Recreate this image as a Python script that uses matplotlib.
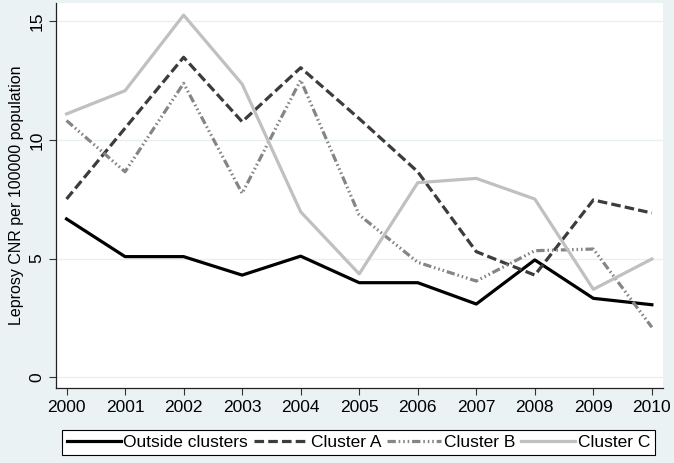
import numpy as np
import matplotlib

matplotlib.use("Agg")
import matplotlib.pyplot as plt  # noqa: E402

plt.rcParams["font.family"] = ["Liberation Sans", "DejaVu Sans"]

years = [2000, 2001, 2002, 2003, 2004, 2005, 2006, 2007, 2008, 2009, 2010]
outside = [6.67, 5.08, 5.08, 4.30, 5.10, 3.98, 3.98, 3.08, 4.94, 3.32, 3.05]
cluster_a = [7.51, 10.5, 13.49, 10.77, 13.05, 10.9, 8.66, 5.29, 4.30, 7.47, 6.92]
cluster_b = [10.82, 8.66, 12.39, 7.75, 12.53, 6.84, 4.84, 4.05, 5.33, 5.40, 2.10]
cluster_c = [11.1, 12.08, 15.27, 12.36, 6.97, 4.35, 8.2, 8.38, 7.51, 3.70, 4.98]
yticks = [0, 5, 10, 15]

BG = "#eaf2f3"

fig = plt.figure(figsize=(6.74, 4.63), dpi=100, facecolor=BG)
ax = fig.add_axes([56 / 674, 1 - 387.7 / 463, (663 - 56) / 674, (387.7 - 3) / 463])
ax.set_facecolor("white")

lw = 2.3
ax.plot(years, outside, color="black", lw=lw, label="Outside clusters")
ax.plot(years, cluster_a, color="#3c3c3c", lw=lw, dashes=(3, 1.3), label="Cluster A")
ax.plot(years, cluster_b, color="#858585", lw=lw,
        dashes=(2.6, 0.9, 0.5, 0.9, 0.5, 0.9, 0.5, 0.9), label="Cluster B")
ax.plot(years, cluster_c, color="#c0c0c0", lw=lw, label="Cluster C")

ax.set_xlim(1999.82, 2010.19)
ax.set_ylim(-0.45, 15.78)
ax.set_xticks(years)
ax.set_yticks(yticks)
ax.set_yticklabels([str(t) for t in yticks], rotation=90, va="center")
ax.tick_params(labelsize=12.5, length=5, width=0.8, color="#333333")
ax.grid(axis="y", color="#e8efef", lw=0.9)
ax.set_axisbelow(True)
for s in ("top", "right"):
    ax.spines[s].set_visible(False)
for s in ("left", "bottom"):
    ax.spines[s].set_color("#222222")
    ax.spines[s].set_linewidth(0.9)
ax.set_ylabel("Leprosy CNR per 100000 population", fontsize=11.5, labelpad=4)

leg = fig.legend(
    loc="center",
    bbox_to_anchor=(358.5 / 674, 1 - 442.5 / 463),
    ncol=4,
    fontsize=12.5,
    handlelength=3.1,
    handletextpad=0.15,
    columnspacing=0.35,
    fancybox=False,
    framealpha=1,
    edgecolor="black",
    borderpad=0.3,
    borderaxespad=0,
)
leg.get_frame().set_linewidth(0.8)

fig.savefig("out.png", dpi=100, facecolor=BG)
